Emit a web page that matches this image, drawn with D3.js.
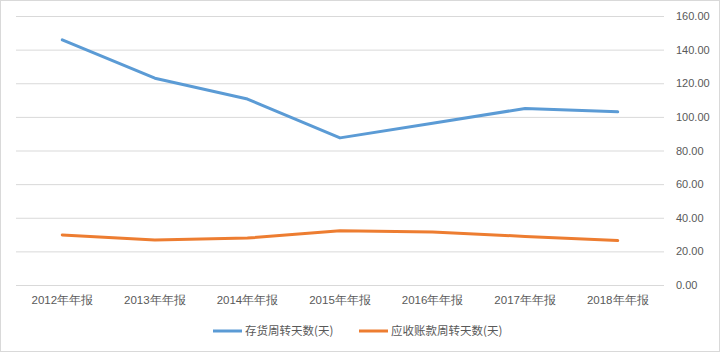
<!DOCTYPE html>
<html>
<head>
<meta charset="utf-8">
<script src="https://cdn.jsdelivr.net/npm/d3@7"></script>
<style>
  body { margin: 0; background: #fff; }
  svg { display: block; font-family: "Noto Sans CJK SC", "Liberation Sans", sans-serif; }
</style>
</head>
<body>
<div id="chart"></div>
<script>
// chart data
var categories = ["2012年年报", "2013年年报", "2014年年报", "2015年年报", "2016年年报", "2017年年报", "2018年年报"];
var inventoryDays = [145.8, 123.0, 110.6, 87.5, 96.2, 105.0, 103.0];
var receivableDays = [29.8, 26.7, 27.9, 32.3, 31.5, 28.9, 26.4];
var seriesNames = ["存货周转天数(天)", "应收账款周转天数(天)"];
var yTicks = [0, 20, 40, 60, 80, 100, 120, 140, 160];

var W = 720, H = 352;
var margin = {top: 16, right: 56, bottom: 67, left: 16},
    width = W - margin.left - margin.right,
    height = H - margin.top - margin.bottom;

var root = d3.select("#chart").append("svg")
  .attr("width", W)
  .attr("height", H);

// outer frame
root.append("rect")
  .attr("x", 0.5).attr("y", 0.5)
  .attr("width", W - 1).attr("height", H - 1)
  .attr("fill", "#fff")
  .attr("stroke", "#d9d9d9");

var svg = root.append("g")
  .attr("transform", "translate(" + margin.left + "," + margin.top + ")");

var x = d3.scaleBand().domain(categories).range([0, width]);
var y = d3.scaleLinear().domain([0, 160]).range([height, 0]);

// gridlines + right axis labels
var yAxis = svg.append("g")
  .attr("transform", "translate(" + width + ",0)")
  .call(d3.axisRight(y).tickValues(yTicks).tickSize(-width).tickPadding(12)
    .tickFormat(d3.format(".2f")));
yAxis.select(".domain").remove();
yAxis.selectAll("line").attr("stroke", "#d9d9d9").attr("stroke-width", 1);
yAxis.selectAll("text")
  .attr("fill", "#595959")
  .style("font-size", "11px")
  .style("font-family", "'Liberation Sans', sans-serif");

// category labels
var xAxis = svg.append("g")
  .attr("transform", "translate(0," + height + ")")
  .call(d3.axisBottom(x).tickSize(0).tickPadding(11));
xAxis.select(".domain").remove();
xAxis.selectAll("text")
  .attr("fill", "#595959")
  .style("font-size", "11.5px");

var line = d3.line()
  .x(function(d, i) { return x(categories[i]) + x.bandwidth() / 2; })
  .y(function(d) { return y(d); });

var colors = ["#5b9bd5", "#ed7d31"];
[inventoryDays, receivableDays].forEach(function(s, i) {
  svg.append("path")
    .datum(s)
    .attr("fill", "none")
    .attr("stroke", colors[i])
    .attr("stroke-width", 3)
    .attr("stroke-linejoin", "round")
    .attr("stroke-linecap", "round")
    .attr("d", line);
});

// legend
var legendY = 331;
var legendX = [213, 359];
seriesNames.forEach(function(name, i) {
  var g = root.append("g").attr("transform", "translate(" + legendX[i] + "," + legendY + ")");
  g.append("line")
    .attr("x1", 0).attr("x2", 29)
    .attr("stroke", colors[i]).attr("stroke-width", 3);
  g.append("text")
    .attr("x", 32).attr("dy", "0.35em")
    .attr("fill", "#595959")
    .style("font-size", "11.5px")
    .text(name);
});
</script>
</body>
</html>
